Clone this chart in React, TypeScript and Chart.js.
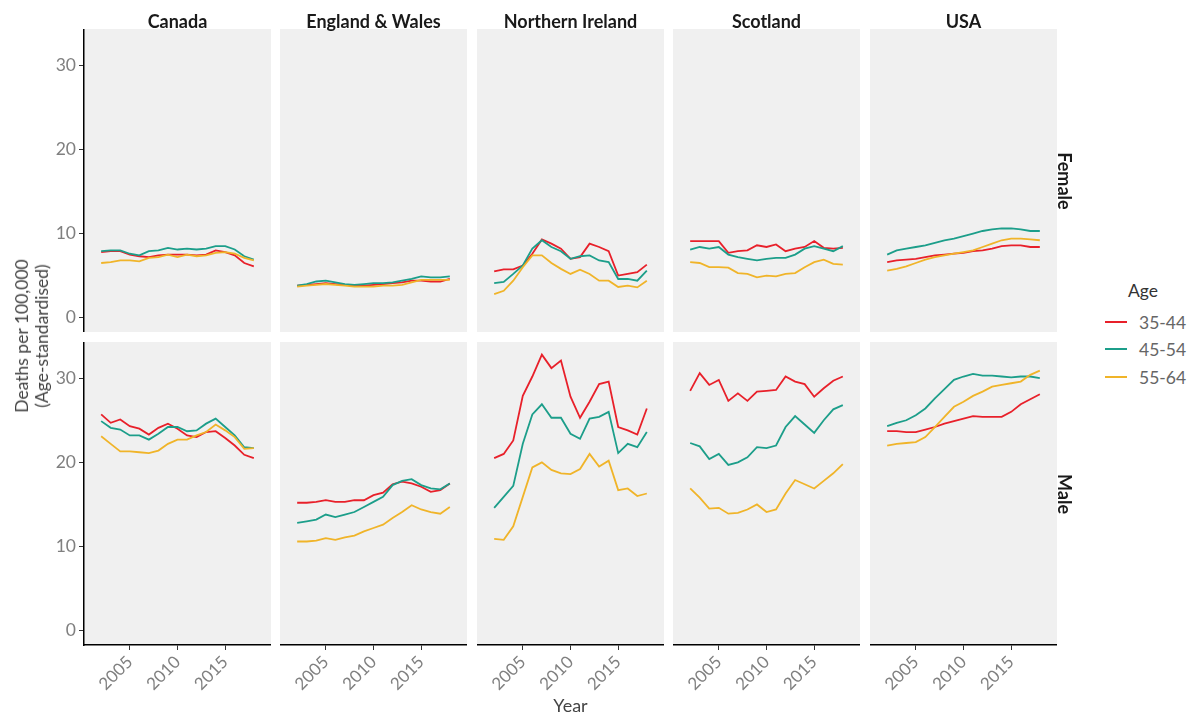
import React, { useEffect, useRef } from "react";
import { Chart, registerables } from "chart.js";

Chart.register(...registerables);

// ---------- data ----------
const years = [2002, 2003, 2004, 2005, 2006, 2007, 2008, 2009, 2010, 2011, 2012, 2013, 2014, 2015, 2016, 2017, 2018];
const countries = ["Canada", "England & Wales", "Northern Ireland", "Scotland", "USA"];
const sexes = ["Female", "Male"];
const ageGroups = ["35-44", "45-54", "55-64"];
const ageColors = ["#E8202A", "#1C9E8A", "#F0B429"];
const yTickValues = [0, 10, 20, 30];
const xTickValues = [2005, 2010, 2015];

// each list: [35-44, 45-54, 55-64]
const canadaFemale = [
  [7.8, 7.9, 7.9, 7.5, 7.3, 7.2, 7.4, 7.5, 7.5, 7.5, 7.4, 7.5, 8.0, 7.8, 7.4, 6.5, 6.1],
  [7.9, 8.0, 8.0, 7.6, 7.4, 7.9, 8.0, 8.3, 8.1, 8.2, 8.1, 8.2, 8.5, 8.5, 8.1, 7.3, 6.9],
  [6.5, 6.6, 6.8, 6.8, 6.7, 7.1, 7.2, 7.5, 7.2, 7.5, 7.3, 7.4, 7.7, 7.8, 7.6, 7.1, 6.8],
];
const englandWalesFemale = [
  [3.8, 3.9, 4.0, 4.1, 4.0, 3.9, 3.8, 3.8, 3.9, 4.0, 4.1, 4.2, 4.4, 4.4, 4.3, 4.3, 4.6],
  [3.8, 4.0, 4.3, 4.4, 4.2, 4.0, 3.9, 4.0, 4.1, 4.1, 4.2, 4.4, 4.6, 4.9, 4.8, 4.8, 4.9],
  [3.7, 3.8, 3.9, 4.0, 3.9, 3.8, 3.7, 3.7, 3.7, 3.8, 3.8, 3.9, 4.2, 4.5, 4.5, 4.5, 4.5],
];
const northernIrelandFemale = [
  [5.5, 5.75, 5.75, 6.2, 7.6, 9.3, 8.8, 8.2, 7.0, 7.2, 8.8, 8.4, 7.9, 5.0, 5.2, 5.4, 6.3],
  [4.1, 4.25, 5.2, 6.2, 8.2, 9.2, 8.4, 7.9, 7.0, 7.3, 7.4, 6.8, 6.6, 4.6, 4.6, 4.4, 5.6],
  [2.8, 3.2, 4.4, 6.0, 7.4, 7.4, 6.5, 5.8, 5.2, 5.7, 5.2, 4.4, 4.4, 3.65, 3.8, 3.6, 4.4],
];
const scotlandFemale = [
  [9.1, 9.1, 9.1, 9.1, 7.7, 7.9, 8.0, 8.6, 8.4, 8.7, 7.9, 8.2, 8.4, 9.1, 8.3, 8.2, 8.3],
  [8.1, 8.4, 8.2, 8.4, 7.5, 7.2, 7.0, 6.8, 7.0, 7.1, 7.1, 7.5, 8.2, 8.5, 8.2, 7.9, 8.5],
  [6.6, 6.5, 6.0, 6.0, 5.95, 5.3, 5.2, 4.8, 5.0, 4.9, 5.2, 5.3, 6.0, 6.6, 6.9, 6.4, 6.3],
];
const usaFemale = [
  [6.6, 6.8, 6.9, 7.0, 7.2, 7.4, 7.5, 7.6, 7.7, 7.9, 8.0, 8.2, 8.5, 8.6, 8.6, 8.4, 8.4],
  [7.5, 8.0, 8.2, 8.4, 8.6, 8.9, 9.2, 9.4, 9.7, 10.0, 10.3, 10.5, 10.6, 10.6, 10.5, 10.3, 10.3],
  [5.6, 5.8, 6.1, 6.5, 6.9, 7.2, 7.4, 7.6, 7.8, 8.0, 8.4, 8.8, 9.2, 9.4, 9.4, 9.3, 9.2],
];
const canadaMale = [
  [25.7, 24.7, 25.1, 24.3, 24.0, 23.3, 24.1, 24.6, 24.0, 23.2, 23.0, 23.6, 23.7, 22.9, 22.0, 20.9, 20.5],
  [24.9, 24.1, 23.9, 23.2, 23.2, 22.7, 23.4, 24.2, 24.2, 23.7, 23.8, 24.6, 25.2, 24.2, 23.2, 21.8, 21.7],
  [23.1, 22.2, 21.3, 21.3, 21.2, 21.1, 21.4, 22.2, 22.7, 22.7, 23.2, 23.6, 24.5, 23.8, 23.0, 21.6, 21.7],
];
const englandWalesMale = [
  [15.2, 15.2, 15.3, 15.5, 15.3, 15.3, 15.5, 15.5, 16.1, 16.4, 17.4, 17.7, 17.5, 17.1, 16.5, 16.7, 17.5],
  [12.8, 13.0, 13.2, 13.8, 13.5, 13.8, 14.1, 14.7, 15.3, 15.9, 17.3, 17.8, 18.0, 17.3, 16.9, 16.8, 17.5],
  [10.6, 10.6, 10.7, 11.0, 10.8, 11.1, 11.3, 11.8, 12.2, 12.6, 13.4, 14.1, 14.9, 14.4, 14.1, 13.9, 14.7],
];
const northernIrelandMale = [
  [20.5, 21.0, 22.6, 27.9, 30.2, 32.8, 31.2, 32.1, 27.8, 25.3, 27.2, 29.3, 29.6, 24.2, 23.8, 23.3, 26.4],
  [14.6, 15.9, 17.2, 22.2, 25.7, 26.9, 25.3, 25.3, 23.4, 22.8, 25.2, 25.4, 26.0, 21.1, 22.2, 21.8, 23.6],
  [10.9, 10.8, 12.4, 15.9, 19.4, 20.0, 19.1, 18.7, 18.6, 19.2, 21.0, 19.5, 20.2, 16.7, 16.9, 16.0, 16.3],
];
const scotlandMale = [
  [28.5, 30.6, 29.2, 29.8, 27.3, 28.2, 27.3, 28.4, 28.5, 28.6, 30.2, 29.6, 29.3, 27.8, 28.8, 29.7, 30.2],
  [22.3, 21.9, 20.4, 21.0, 19.7, 20.0, 20.6, 21.8, 21.7, 22.0, 24.2, 25.5, 24.5, 23.5, 25.0, 26.3, 26.8],
  [16.9, 15.8, 14.5, 14.6, 13.9, 14.0, 14.4, 15.0, 14.1, 14.4, 16.3, 17.9, 17.4, 16.9, 17.8, 18.7, 19.8],
];
const usaMale = [
  [23.7, 23.7, 23.6, 23.6, 23.9, 24.2, 24.6, 24.9, 25.2, 25.5, 25.4, 25.4, 25.4, 26.0, 26.9, 27.5, 28.1],
  [24.3, 24.7, 25.0, 25.6, 26.4, 27.6, 28.7, 29.8, 30.2, 30.5, 30.3, 30.3, 30.2, 30.1, 30.2, 30.2, 30.0],
  [22.0, 22.2, 22.3, 22.4, 23.0, 24.2, 25.4, 26.6, 27.2, 27.9, 28.4, 29.0, 29.2, 29.4, 29.6, 30.4, 30.9],
];

const femaleByCountry = [canadaFemale, englandWalesFemale, northernIrelandFemale, scotlandFemale, usaFemale];
const maleByCountry = [canadaMale, englandWalesMale, northernIrelandMale, scotlandMale, usaMale];

// ---------- layout (page px; root sits at 8,8) ----------
const OFF = 8;
const panelLefts = [84, 280, 477, 673, 870];
const PANEL_W = 187;
const rowTops = [29, 342];
const PANEL_H = 303;
const Y_AXIS_W = 76;
const X_AXIS_H = 62;
const X_MIN = 2000.2;
const X_MAX = 2019.8;
const Y_MIN = -1.7;
const Y_MAX = 34.3;
const FONT = "Lato, 'Noto Sans', sans-serif";

const bgPlugin = {
  id: "panelBg",
  beforeDraw(chart: any) {
    const { ctx, chartArea } = chart;
    if (!chartArea) return;
    ctx.save();
    ctx.fillStyle = "#F0F0F0";
    ctx.fillRect(chartArea.left, chartArea.top, chartArea.right - chartArea.left, chartArea.bottom - chartArea.top);
    ctx.restore();
  },
};

function Panel(props: { series: number[][]; showY: boolean; showX: boolean; left: number; top: number }) {
  const { series, showY, showX, left, top } = props;
  const ref = useRef<HTMLCanvasElement | null>(null);
  const width = PANEL_W + (showY ? Y_AXIS_W : 0);
  const height = PANEL_H + (showX ? X_AXIS_H : 0);

  useEffect(() => {
    if (!ref.current) return;
    const chart = new Chart(ref.current, {
      type: "line",
      data: {
        datasets: series.map((vals, i) => ({
          label: ageGroups[i],
          data: years.map((yr, j) => ({ x: yr, y: vals[j] })),
          borderColor: ageColors[i],
          backgroundColor: ageColors[i],
          borderWidth: 1.8,
          pointRadius: 0,
          tension: 0,
          fill: false,
          order: 2 - i,
        })),
      },
      options: {
        animation: false,
        responsive: false,
        events: [],
        layout: { padding: 0 },
        plugins: { legend: { display: false }, tooltip: { enabled: false }, title: { display: false } },
        scales: {
          x: {
            type: "linear",
            min: X_MIN,
            max: X_MAX,
            display: showX,
            afterBuildTicks: (s: any) => {
              s.ticks = xTickValues.map((v) => ({ value: v }));
            },
            afterFit: (s: any) => {
              if (showX) s.height = X_AXIS_H;
              s.paddingLeft = 0;
              s.paddingRight = 0;
              s.paddingTop = 0;
              s.paddingBottom = 0;
            },
            ticks: {
              autoSkip: false,
              minRotation: 45,
              maxRotation: 45,
              padding: 2,
              color: "#808080",
              font: { size: 17, family: FONT },
              callback: (v: any) => String(v),
            },
            grid: { display: true, drawOnChartArea: false, drawTicks: true, tickLength: 5, color: "#333333" },
            border: { display: true, color: "#000000", width: 1.5 },
          },
          y: {
            type: "linear",
            min: Y_MIN,
            max: Y_MAX,
            display: showY,
            afterBuildTicks: (s: any) => {
              s.ticks = yTickValues.map((v) => ({ value: v }));
            },
            afterFit: (s: any) => {
              if (showY) s.width = Y_AXIS_W;
              s.paddingLeft = 0;
              s.paddingRight = 0;
              s.paddingTop = 0;
              s.paddingBottom = 0;
            },
            ticks: {
              autoSkip: false,
              padding: 3,
              color: "#808080",
              font: { size: 17.5, family: FONT },
              callback: (v: any) => String(v),
            },
            grid: { display: true, drawOnChartArea: false, drawTicks: true, tickLength: 5, color: "#333333" },
            border: { display: true, color: "#000000", width: 1.5 },
          },
        },
      },
      plugins: [bgPlugin],
    } as any);
    return () => chart.destroy();
  }, []);

  const cssLeft = (showY ? left - Y_AXIS_W : left) - OFF;
  return (
    <canvas
      ref={ref}
      width={width}
      height={height}
      style={{ position: "absolute", left: cssLeft, top: top - OFF, width, height }}
    />
  );
}

export default function App() {
  const textBase: React.CSSProperties = { position: "absolute", fontFamily: FONT, whiteSpace: "nowrap" };
  return (
    <div style={{ position: "relative", width: 1181, height: 704, background: "#ffffff", overflow: "hidden" }}>
      {countries.map((c, ci) => (
        <React.Fragment key={c}>
          <Panel series={femaleByCountry[ci]} showY={ci === 0} showX={false} left={panelLefts[ci]} top={rowTops[0]} />
          <Panel series={maleByCountry[ci]} showY={ci === 0} showX={true} left={panelLefts[ci]} top={rowTops[1]} />
          <div
            style={{
              ...textBase,
              left: panelLefts[ci] - OFF,
              width: PANEL_W,
              top: 21 - OFF,
              transform: "translateY(-50%)",
              textAlign: "center",
              fontWeight: 700,
              fontSize: 18,
              color: "#1a1a1a",
            }}
          >
            {c}
          </div>
        </React.Fragment>
      ))}
      {sexes.map((s, si) => (
        <div
          key={s}
          style={{
            ...textBase,
            left: 1065 - OFF,
            top: rowTops[si] + PANEL_H / 2 - OFF,
            transform: "translate(-50%, -50%) rotate(90deg)",
            fontWeight: 700,
            fontSize: 18,
            color: "#1a1a1a",
          }}
        >
          {s}
        </div>
      ))}
      <div
        style={{
          ...textBase,
          left: 31.5 - OFF,
          top: 336 - OFF,
          transform: "translate(-50%, -50%) rotate(-90deg)",
          textAlign: "center",
          fontSize: 17.5,
          lineHeight: "20px",
          color: "#444444",
        }}
      >
        Deaths per 100,000
        <br />
        (Age-standardised)
      </div>
      <div
        style={{
          ...textBase,
          left: 570.5 - OFF,
          top: 705 - OFF,
          transform: "translate(-50%, -50%)",
          fontSize: 18,
          color: "#444444",
        }}
      >
        Year
      </div>
      <div style={{ ...textBase, left: 1128 - OFF, top: 290 - OFF, transform: "translateY(-50%)", fontSize: 17.5, color: "#333333" }}>
        Age
      </div>
      {ageGroups.map((a, i) => {
        const cy = [321.5, 349, 377][i];
        return (
          <React.Fragment key={a}>
            <div
              style={{
                position: "absolute",
                left: 1105 - OFF,
                top: cy - 1 - OFF,
                width: 22,
                height: 2,
                background: ageColors[i],
              }}
            />
            <div style={{ ...textBase, left: 1139 - OFF, top: cy - OFF, transform: "translateY(-50%)", fontSize: 17.5, color: "#666666" }}>
              {a}
            </div>
          </React.Fragment>
        );
      })}
    </div>
  );
}
